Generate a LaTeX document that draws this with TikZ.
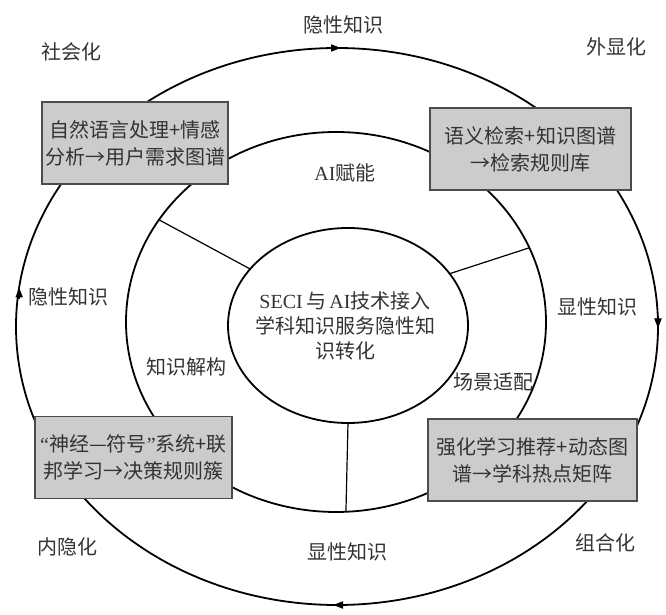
\documentclass[tikz,border=0pt]{standalone}
\usepackage{fontspec}
\setmainfont{Liberation Serif}
\newfontfamily\cjk{Noto Sans CJK SC}
\usetikzlibrary{shapes.geometric,arrows.meta}
\begin{document}
\begin{tikzpicture}[x=1pt,y=1pt,>={Triangle[length=10pt,width=7pt]},line width=1.8pt,
  ring/.style={ellipse,draw,inner sep=0pt,outer sep=0pt},
  lab/.style={text=black!80,font=\cjk\fontsize{20}{25}\selectfont,inner sep=0pt,align=center},
  box/.style={draw=black!70,line width=1.2pt,fill=black!20,minimum height=82pt,align=center,
    text=black!80,font=\cjk\fontsize{20}{27}\selectfont,inner sep=0pt},
  spoke/.style={line width=1.2pt}]
  \useasboundingbox (0,0) rectangle (666,615);
  \node[ring,minimum width=642pt,minimum height=557pt] (outer) at (337,288.5) {};
  \node[ring,minimum width=420pt,minimum height=380pt] (middle) at (336,293) {};
  \node[ring,minimum width=240pt,minimum height=195pt] (inner) at (348,289.5) {};
  \draw[spoke] (inner.150) -- (middle.150);
  \draw[spoke] (inner.27) -- (middle.21);
  \draw[spoke] (inner.270) -- (middle.273);
  \draw[->] ([xshift=-10pt]outer.north) -- ([xshift=4pt]outer.north);
  \draw[->] ([yshift=10pt]outer.east) -- ([yshift=-2pt]outer.east);
  \draw[->] ([xshift=10pt]outer.south) -- ([xshift=-4pt]outer.south);
  \draw[->] ([yshift=-12pt]outer.173) -- (outer.173);
  \node[box,minimum width=186pt] (social) at (135,472) {自然语言处理+情感\\分析→用户需求图谱};
  \node[box,minimum width=201pt] (extern) at (530.5,466) {语义检索+知识图谱\\→检索规则库};
  \node[box,minimum width=197pt] (intern) at (133.5,157.5) {{\rmfamily “}神经—符号{\rmfamily ”}系统+联\\邦学习→决策规则簇};
  \node[box,minimum width=209pt] (combin) at (532.5,155) {强化学习推荐+动态图\\谱→学科热点矩阵};
  \node[lab] (core) at (345,289) {{\rmfamily SECI\,}与{\rmfamily\,AI}技术接入\\学科知识服务隐性知\\识转化};
  \node[lab] (tacittop) at (343,590) {隐性知识};
  \node[lab] (tacitleft) at (68,318) {隐性知识};
  \node[lab] (explright) at (597,308) {显性知识};
  \node[lab] (explbottom) at (347,63) {显性知识};
  \node[lab] (soc) at (71,563) {社会化};
  \node[lab] (ext) at (616,568) {外显化};
  \node[lab] (inte) at (67,68) {内隐化};
  \node[lab] (com) at (605,72) {组合化};
  \node[lab] (empower) at (345,442) {{\rmfamily AI}赋能};
  \node[lab] (decon) at (186,248) {知识解构};
  \node[lab] (adapt) at (493,233) {场景适配};
\end{tikzpicture}
\end{document}
